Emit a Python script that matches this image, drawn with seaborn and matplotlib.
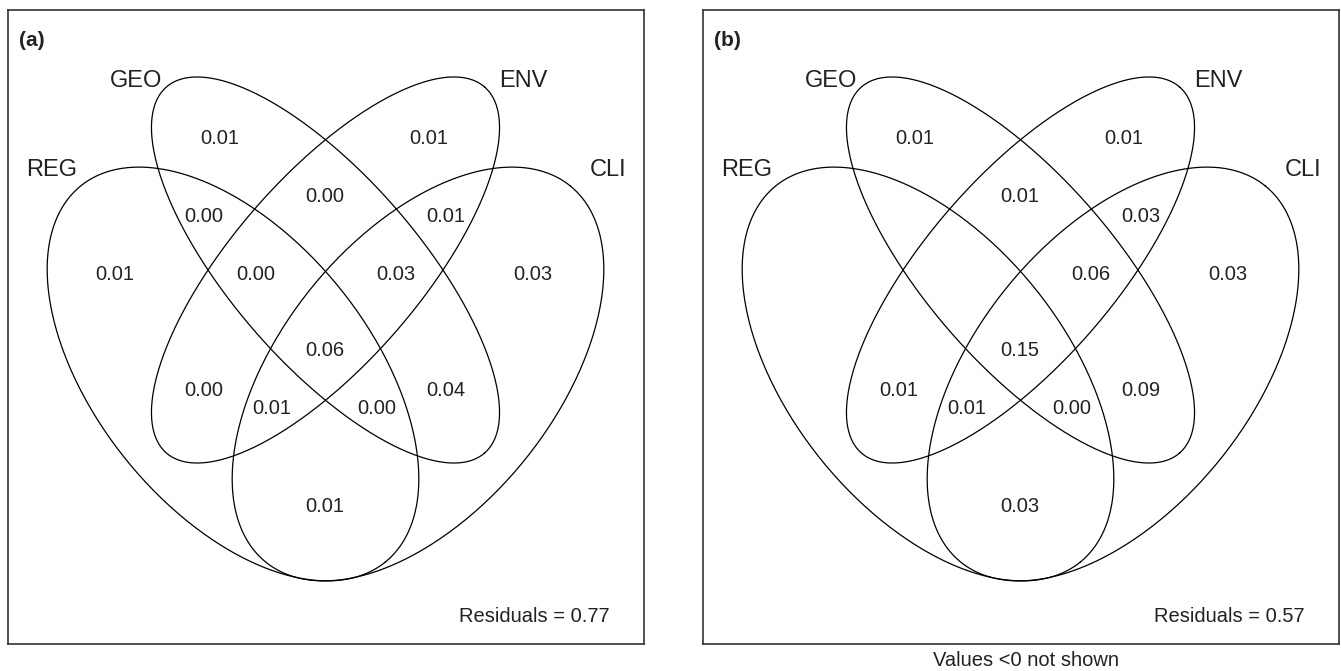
import numpy as np
import pandas as pd
import matplotlib
matplotlib.use("Agg")
import matplotlib.pyplot as plt
import seaborn as sns

# set names and region values (None = not shown, value < 0)
set_names = ["GEO", "ENV", "REG", "CLI"]
regions = ["GEO", "ENV", "GEO+ENV", "REG+GEO", "ENV+CLI", "REG", "REG+GEO+ENV",
           "GEO+ENV+CLI", "CLI", "ALL", "REG+ENV", "GEO+CLI", "REG+ENV+CLI",
           "REG+GEO+CLI", "REG+CLI"]
values_a = [0.01, 0.01, 0.00, 0.00, 0.01, 0.01, 0.00,
            0.03, 0.03, 0.06, 0.00, 0.04, 0.01,
            0.00, 0.01]
values_b = [0.01, 0.01, 0.01, None, 0.03, None, None,
            0.06, 0.03, 0.15, 0.01, 0.09, 0.01,
            0.00, 0.03]
residuals = [0.77, 0.57]
panel_tags = ["(a)", "(b)"]

# label positions inside a panel (pixels from the box's top-left)
region_x = [212, 421, 317, 196, 438, 107, 248, 388, 525, 317, 196, 438, 264, 369, 317]
region_y = [129, 129, 187, 206, 206, 265, 265, 265, 265, 341, 380, 380, 399, 399, 497]
name_x = [128, 515, 44, 600]
name_y = [71, 71, 160, 160]

# ellipses: centre x, centre y, semi-major, semi-minor, angle (deg, y down)
CX = 317.5
ellipses = {
    "GEO": (CX, 260, 242.5, 93.5, 49),
    "ENV": (CX, 260, 242.5, 93.5, -49),
    "REG": (CX - 92.5, 364, 242, 137, 51),
    "CLI": (CX + 92.5, 364, 242, 137, -51),
}

W, H = 1341, 671
BOX_W, BOX_H = 636, 634
boxes = [(8, 10), (703, 10)]


def ellipse_frame(cx, cy, a, b, ang, name):
    t = np.linspace(0, 2 * np.pi, 400)
    th = np.deg2rad(ang)
    x = cx + a * np.cos(t) * np.cos(th) - b * np.sin(t) * np.sin(th)
    y = cy + a * np.cos(t) * np.sin(th) + b * np.sin(t) * np.cos(th)
    return pd.DataFrame({"x": x, "y": y, "set": name, "order": np.arange(len(t))})


sns.set_theme(style="white")
plt.rcParams["font.family"] = ["Liberation Sans", "DejaVu Sans"]

fig = plt.figure(figsize=(W / 100, H / 100), dpi=100)
outline = pd.concat([ellipse_frame(*p, n) for n, p in ellipses.items()], ignore_index=True)

for i, (bx, by) in enumerate(boxes):
    ax = fig.add_axes([bx / W, 1 - (by + BOX_H) / H, BOX_W / W, BOX_H / H])
    for name in set_names:
        sub = outline[outline["set"] == name]
        sns.lineplot(data=sub, x="x", y="y", sort=False, estimator=None,
                     color="black", linewidth=0.9, ax=ax)
    vals = values_a if i == 0 else values_b
    for v, x, y in zip(vals, region_x, region_y):
        if v is None:
            continue
        ax.text(x, y, f"{v:.2f}", ha="center", va="center", fontsize=14.5, color="#222222")
    for n, x, y in zip(set_names, name_x, name_y):
        ax.text(x, y, n, ha="center", va="center", fontsize=17, color="#222222")
    ax.text(11, 31, panel_tags[i], ha="left", va="center", fontsize=15,
            fontweight="bold", color="#222222")
    ax.text(602, 606, f"Residuals = {residuals[i]:.2f}", ha="right", va="center",
            fontsize=14.5, color="#222222")
    ax.set_xlim(0, BOX_W)
    ax.set_ylim(BOX_H, 0)
    ax.set_xticks([])
    ax.set_yticks([])
    ax.set_xlabel("")
    ax.set_ylabel("")
    for s in ax.spines.values():
        s.set_visible(True)
        s.set_color("#333333")
        s.set_linewidth(1.2)

fig.text(1026 / W, 1 - 660 / H, "Values <0 not shown", ha="center", va="center",
         fontsize=14.5, color="#222222")

fig.savefig("out.png", dpi=100)
